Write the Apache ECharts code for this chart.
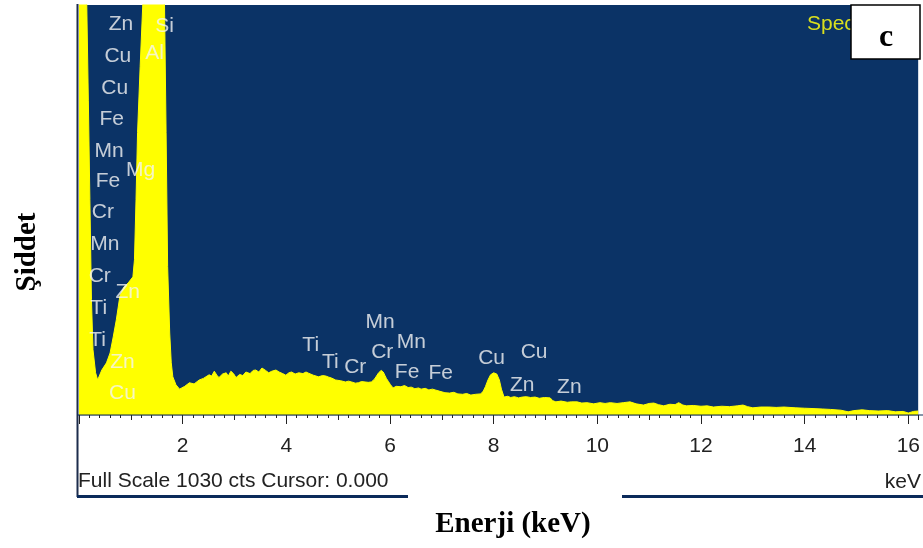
<!DOCTYPE html>
<html>
<head>
<meta charset="utf-8">
<script src="https://cdn.jsdelivr.net/npm/echarts@6/dist/echarts.min.js"></script>
<style>
html,body{margin:0;padding:0;background:#fff;}
#chart{width:923px;height:548px;}
</style>
</head>
<body>
<div id="chart"></div>
<script>
// Spectrum (energy in keV, counts; full scale 1030 cts)
const energy = [0.00,0.13,0.15,0.18,0.21,0.24,0.27,0.32,0.36,0.44,0.53,0.60,0.66,0.72,0.79,0.87,0.95,1.04,1.07,1.10,1.13,1.18,1.23,1.26,1.62,1.65,1.68,1.71,1.75,1.78,1.81,1.87,1.94,
2.04,2.13,2.22,2.32,2.40,2.51,2.56,2.61,2.66,2.70,2.77,2.84,2.88,2.93,2.98,3.03,3.10,3.16,3.22,3.30,3.36,3.41,3.47,3.53,3.60,3.66,3.72,3.80,3.86,3.93,3.99,
4.05,4.10,4.17,4.24,4.32,4.38,4.43,4.52,4.62,4.70,4.76,4.82,4.87,4.95,5.05,5.14,5.20,5.26,5.33,5.39,5.45,5.52,5.58,5.64,5.70,5.74,5.78,5.83,5.87,5.90,5.93,5.97,
6.01,6.06,6.12,6.21,6.28,6.35,6.41,6.48,6.55,6.60,6.68,6.75,6.82,6.87,6.95,7.06,7.15,7.23,7.31,7.40,7.48,7.56,7.65,7.75,7.80,7.84,7.89,7.94,8.00,8.06,8.11,8.15,8.20,
8.27,8.33,8.40,8.48,8.55,8.63,8.71,8.80,8.88,8.98,9.09,9.14,9.20,9.30,9.42,9.50,9.61,9.70,9.80,9.93,10.05,10.15,10.25,10.38,10.50,10.63,10.75,10.89,11.00,11.09,11.18,
11.28,11.40,11.50,11.57,11.65,11.72,11.85,12.00,12.12,12.24,12.40,12.55,12.70,12.81,12.90,13.00,13.15,13.31,13.45,13.60,13.83,14.00,14.20,14.35,14.50,14.70,14.84,14.95,
15.11,15.25,15.42,15.60,15.75,15.90,16.00,16.10,16.19];
const counts = [1100,1100,1030,791,541,290,164,106,88,113,131,156,196,239,300,322,332,347,390,541,710,876,1030,1100,1100,1030,710,373,206,131,96,76,65,
72,81,78,88,92,101,98,110,100,94,103,106,98,110,104,94,102,99,108,104,112,113,108,118,112,106,110,113,108,104,100,
106,108,103,106,104,108,105,100,96,99,98,95,93,88,86,83,85,83,80,81,84,83,82,83,90,98,106,112,108,100,92,84,
76,68,72,71,74,69,70,66,68,65,67,63,65,63,60,56,55,57,53,52,54,50,52,53,60,71,88,101,106,103,88,65,45,
47,44,46,43,45,46,44,45,42,44,43,36,33,35,32,33,33,30,31,28,31,29,31,29,31,33,28,25,29,30,26,
23,27,26,31,25,23,24,22,23,20,22,21,23,25,21,18,20,20,19,20,18,17,16,15,14,12,8,11,
13,11,10,11,8,9,5,9,10];

// Peak identification labels (element, energy position keV, label height in counts)
const peakNames  = ['Zn','Cu','Cu','Fe','Mn','Fe','Cr','Mn','Cr','Ti','Ti','Zn','Mg','Si','Al','Zn','Cu',
                    'Mn','Ti','Ti','Cr','Cr','Mn','Fe','Fe','Cu','Cu','Zn','Zn'];
const peakEnergy = [0.81,0.75,0.69,0.63,0.58,0.56,0.46,0.50,0.40,0.38,0.36,0.94,1.19,1.65,1.46,0.84,0.84,
                    5.81,4.47,4.85,5.33,5.85,6.41,6.33,6.98,7.96,8.78,8.55,9.46];
const peakHeight = [982,902,821,744,663,588,510,430,349,269,188,309,615,977,909,133,55,
                    234,176,133,121,158,183,108,106,143,158,75,70];

const xTicksMajor = 2;   // labelled every 2 keV
const xTicksMid = 1;     // tick every 1 keV
const xMax = 16.19;
const yFullScale = 1030;

const specData = energy.map((e, i) => [e, counts[i]]);
const labelData = peakNames.map((n, i) => ({ name: n, value: [peakEnergy[i], peakHeight[i]] }));

const chart = echarts.init(document.getElementById('chart'), null, { renderer: 'canvas' });
const sans = "'Liberation Sans', Arial, sans-serif";
const serif = "'Liberation Serif', 'Times New Roman', serif";

chart.setOption({
  animation: false,
  backgroundColor: '#ffffff',
  grid: { left: 79, right: 0, top: 5, bottom: 133, show: true, backgroundColor: '#0b3366', borderWidth: 0, containLabel: false },
  xAxis: [
    { type: 'value', min: 0, max: xMax, interval: xTicksMid, position: 'bottom', offset: 2,
      axisLine: { show: true, lineStyle: { color: '#c8c8c8', width: 1 } },
      axisTick: { show: true, length: 5, lineStyle: { color: '#222', width: 1 } },
      minorTick: { show: true, splitNumber: 5, length: 3, lineStyle: { color: '#222', width: 1 } },
      axisLabel: { show: false }, splitLine: { show: false } },
    { type: 'value', min: 0, max: xMax, interval: xTicksMajor, position: 'bottom', offset: 2,
      axisLine: { show: false },
      axisTick: { show: true, length: 7, lineStyle: { color: '#222', width: 1 } },
      axisLabel: { show: true, margin: 19, fontSize: 21, fontFamily: sans, color: '#222',
        formatter: v => (v === 0 ? '' : String(v)) },
      splitLine: { show: false } }
  ],
  yAxis: { type: 'value', min: 0, max: yFullScale, show: false },
  series: [
    { type: 'line', xAxisIndex: 0, data: specData, symbol: 'none', clip: true,
      lineStyle: { color: '#ffff00', width: 1 }, areaStyle: { color: '#ffff00', opacity: 1 }, z: 2 },
    { type: 'scatter', xAxisIndex: 0, data: labelData, symbolSize: 0, z: 5, clip: false,
      label: { show: true, position: 'inside', formatter: p => p.name, color: '#f4f4f4', fontSize: 21, fontFamily: sans } }
  ],
  graphic: [
    { type: 'line', z: 10, shape: { x1: 77.5, y1: 4, x2: 77.5, y2: 497 }, style: { stroke: '#1d2c4c', lineWidth: 2 } },
    { type: 'line', z: 10, shape: { x1: 77, y1: 415, x2: 923, y2: 415 }, style: { stroke: '#0b2a55', lineWidth: 1 } },
    { type: 'line', z: 10, shape: { x1: 77, y1: 496.5, x2: 408, y2: 496.5 }, style: { stroke: '#0b2a5a', lineWidth: 3 } },
    { type: 'line', z: 10, shape: { x1: 622, y1: 496.5, x2: 923, y2: 496.5 }, style: { stroke: '#0b2a5a', lineWidth: 3 } },
    { type: 'text', z: 10, x: 78, y: 481, style: { text: 'Full Scale 1030 cts Cursor: 0.000', font: '21px ' + sans, fill: '#222', textAlign: 'left', textVerticalAlign: 'middle' } },
    { type: 'text', z: 10, x: 921, y: 482, style: { text: 'keV', font: '21px ' + sans, fill: '#222', textAlign: 'right', textVerticalAlign: 'middle' } },
    { type: 'text', z: 10, x: 513, y: 525, style: { text: 'Enerji (keV)', font: 'bold 29px ' + serif, fill: '#000', textAlign: 'center', textVerticalAlign: 'middle' } },
    { type: 'text', z: 10, x: 28, y: 252, rotation: Math.PI / 2, style: { text: 'Şiddet', font: 'bold 29px ' + serif, fill: '#000', textAlign: 'center', textVerticalAlign: 'middle' } },
    { type: 'text', z: 10, x: 807, y: 24, style: { text: 'Spectrum 1', font: '21px ' + sans, fill: '#d9df1e', textAlign: 'left', textVerticalAlign: 'middle' } },
    { type: 'rect', z: 11, shape: { x: 851, y: 5, width: 69, height: 54 }, style: { fill: '#ffffff', stroke: '#000', lineWidth: 1.5 } },
    { type: 'text', z: 12, x: 886, y: 38, style: { text: 'c', font: 'bold 32px ' + serif, fill: '#000', textAlign: 'center', textVerticalAlign: 'middle' } }
  ]
});
</script>
</body>
</html>
